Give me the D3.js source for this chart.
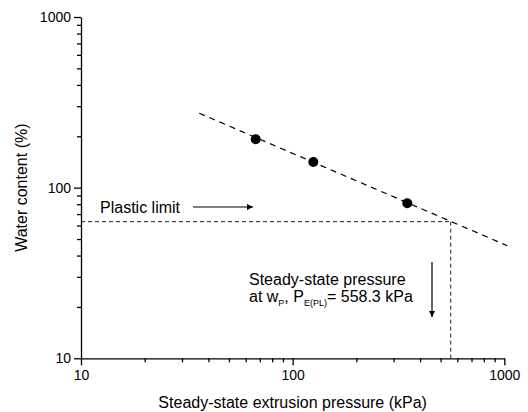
<!DOCTYPE html>
<html>
<head>
<meta charset="utf-8">
<script src="https://cdn.jsdelivr.net/npm/d3@7"></script>
<style>
  body { margin: 0; background: #fff; }
  svg { display: block; font-family: "Liberation Sans", Arial, sans-serif; }
</style>
</head>
<body>
<script>
    // measured points
    var pressure = [66.9, 125.2, 348];
    var water = [192, 141.5, 81];

    // fitted line end points
    var fitX = [36.2, 1033];
    var fitY = [273, 45.7];

    var plasticLimit = 63.2;
    var pressurePL = 558.3;

    var majorTicks = [10, 100, 1000];
    var minorTicks = [20, 30, 40, 50, 60, 70, 80, 90, 200, 300, 400, 500, 600, 700, 800, 900];

    var W = 528, H = 412;
    var margin = {top: 17, right: 23.7, bottom: 53.7, left: 81};
    var width = W - margin.left - margin.right,
        height = H - margin.top - margin.bottom;

    var svg = d3.select("body").append("svg")
        .attr("width", W).attr("height", H);

    svg.append("defs").append("marker")
        .attr("id", "head")
        .attr("viewBox", "0 0 10 10")
        .attr("refX", 10).attr("refY", 5)
        .attr("markerUnits", "userSpaceOnUse")
        .attr("markerWidth", 9).attr("markerHeight", 6)
        .attr("orient", "auto")
      .append("path")
        .attr("d", "M0,0L10,5L0,10z")
        .attr("fill", "#000");

    var g = svg.append("g")
        .attr("transform", "translate(" + margin.left + "," + margin.top + ")");

    var x = d3.scaleLog().domain([10, 1000]).range([0, width]);
    var y = d3.scaleLog().domain([10, 1000]).range([height, 0]);

    // axes: minor ticks first, then major with labels
    g.append("g")
        .attr("transform", "translate(0," + height + ")")
        .call(d3.axisBottom(x).tickValues(minorTicks).tickSize(4).tickFormat(""))
        .call(function(s){ s.select(".domain").remove(); });
    g.append("g")
        .attr("transform", "translate(0," + height + ")")
        .call(d3.axisBottom(x).tickValues(majorTicks).tickSize(7).tickSizeOuter(0).tickPadding(5).tickFormat(d3.format("d")));

    g.append("g")
        .call(d3.axisLeft(y).tickValues(minorTicks).tickSize(4).tickFormat(""))
        .call(function(s){ s.select(".domain").remove(); });
    g.append("g")
        .call(d3.axisLeft(y).tickValues(majorTicks).tickSize(7).tickSizeOuter(0).tickPadding(3).tickFormat(d3.format("d")));

    g.selectAll(".tick line, .domain").attr("stroke", "#000").attr("stroke-width", 1.3);
    g.selectAll(".tick text").attr("font-size", 14).attr("fill", "#000")
        .attr("font-family", "Liberation Sans, Arial, sans-serif");

    // fitted power law line
    g.append("line")
        .attr("x1", x(fitX[0])).attr("y1", y(fitY[0]))
        .attr("x2", x(fitX[1])).attr("y2", y(fitY[1]))
        .attr("stroke", "#000").attr("stroke-width", 1.2)
        .attr("stroke-dasharray", "6,5");

    // plastic limit guide lines
    g.append("line")
        .attr("x1", 0).attr("y1", y(plasticLimit))
        .attr("x2", x(pressurePL)).attr("y2", y(plasticLimit))
        .attr("stroke", "#222").attr("stroke-width", 1)
        .attr("stroke-dasharray", "4,3");
    g.append("line")
        .attr("x1", x(pressurePL)).attr("y1", y(plasticLimit))
        .attr("x2", x(pressurePL)).attr("y2", height)
        .attr("stroke", "#222").attr("stroke-width", 1)
        .attr("stroke-dasharray", "4,3");

    g.selectAll("circle.pt")
        .data(d3.zip(pressure, water))
      .enter().append("circle")
        .attr("class", "pt")
        .attr("cx", function(d){ return x(d[0]); })
        .attr("cy", function(d){ return y(d[1]); })
        .attr("r", 5)
        .attr("fill", "#000");

    // annotations
    svg.append("text")
        .attr("x", 100).attr("y", 212.5)
        .attr("font-size", 16)
        .text("Plastic limit");
    svg.append("line")
        .attr("x1", 193).attr("y1", 207).attr("x2", 253).attr("y2", 207)
        .attr("stroke", "#000").attr("stroke-width", 1.2)
        .attr("marker-end", "url(#head)");

    svg.append("text")
        .attr("x", 249).attr("y", 284.5)
        .attr("font-size", 16)
        .text("Steady-state pressure");
    var t2 = svg.append("text")
        .attr("x", 249).attr("y", 302)
        .attr("font-size", 16);
    t2.append("tspan").text("at w");
    t2.append("tspan").attr("font-size", 9).attr("dy", 4).text("P");
    t2.append("tspan").attr("dy", -4).text(", P");
    t2.append("tspan").attr("font-size", 9).attr("dy", 4).text("E(PL)");
    t2.append("tspan").attr("dy", -4).text("= " + pressurePL + " kPa");

    svg.append("line")
        .attr("x1", 432).attr("y1", 262).attr("x2", 432).attr("y2", 317)
        .attr("stroke", "#000").attr("stroke-width", 1.2)
        .attr("marker-end", "url(#head)");

    // axis titles
    svg.append("text")
        .attr("x", margin.left + width / 2).attr("y", 408)
        .attr("text-anchor", "middle")
        .attr("font-size", 16)
        .text("Steady-state extrusion pressure (kPa)");
    svg.append("text")
        .attr("transform", "translate(26.5," + (margin.top + height / 2) + ") rotate(-90)")
        .attr("text-anchor", "middle")
        .attr("font-size", 16)
        .text("Water content (%)");
</script>
</body>
</html>
